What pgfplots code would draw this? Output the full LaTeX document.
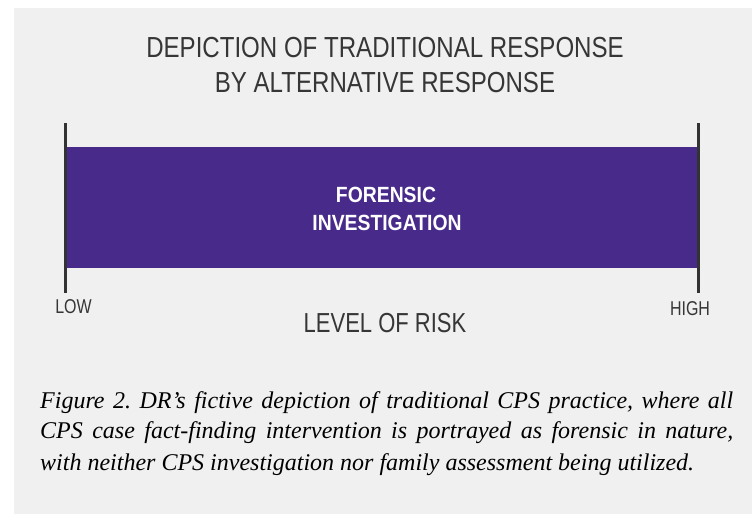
\documentclass[border=0pt]{standalone}
\usepackage{pgfplots}
\pgfplotsset{compat=1.18}
\usepackage{fontspec}
\setmainfont{Liberation Serif}
\newfontfamily\condsans[FakeStretch=0.83]{Liberation Sans}
\newfontfamily\lowsans[FakeStretch=0.8]{Liberation Sans}
\newfontfamily\boldcond[FakeStretch=0.88]{Liberation Sans}
\definecolor{panelgray}{HTML}{F0F0F0}
\definecolor{barpurple}{HTML}{472A8A}
\definecolor{linegray}{HTML}{333333}
\definecolor{textgray}{HTML}{363636}
\frenchspacing
\begin{document}
\begin{tikzpicture}
\path[use as bounding box] (0pt,0pt) rectangle (752pt,514pt);
\fill[panelgray] (14pt,0pt) rectangle (752pt,506pt);
\begin{axis}[at={(65pt,221pt)}, anchor=south west, scale only axis,
  width=633pt, height=170pt, xmin=0, xmax=100, ymin=-1, ymax=1,
  hide axis, clip=false]
\addplot[xbar, bar width=121pt, bar shift=0pt, fill=barpurple, draw=none] coordinates {(100,0)};
\addplot[line width=3pt, color=linegray] coordinates {(0,-1) (0,1)};
\addplot[line width=3pt, color=linegray] coordinates {(100,-1) (100,1)};
\end{axis}
\node[text=textgray, font=\condsans\fontsize{29}{29}\selectfont] at (385pt,466.5pt) {DEPICTION OF TRADITIONAL RESPONSE};
\node[text=textgray, font=\condsans\fontsize{29}{29}\selectfont] at (385pt,431.5pt) {BY ALTERNATIVE RESPONSE};
\node[text=white, font=\boldcond\bfseries\fontsize{22}{22}\selectfont] at (386pt,319pt) {FORENSIC};
\node[text=white, font=\boldcond\bfseries\fontsize{22}{22}\selectfont] at (387pt,291pt) {INVESTIGATION};
\node[text=textgray, font=\lowsans\fontsize{27.5}{28}\selectfont] at (385pt,191pt) {LEVEL OF RISK};
\node[text=textgray, font=\lowsans\fontsize{20}{20}\selectfont] at (73.5pt,207pt) {LOW};
\node[text=textgray, font=\lowsans\fontsize{20}{20}\selectfont] at (690pt,205pt) {HIGH};
\node[anchor=base west, inner sep=0pt, font=\itshape\fontsize{24}{31}\selectfont] at (40pt,105pt) {\makebox[693pt][s]{Figure 2. DR’s fictive depiction of traditional CPS practice, where all}};
\node[anchor=base west, inner sep=0pt, font=\itshape\fontsize{24}{31}\selectfont] at (40pt,75pt) {\makebox[693pt][s]{CPS case fact-finding intervention is portrayed as forensic in nature,}};
\node[anchor=base west, inner sep=0pt, font=\itshape\fontsize{24}{31}\selectfont] at (40pt,44pt) {with neither CPS investigation nor family assessment being utilized.};
\end{tikzpicture}
\end{document}
